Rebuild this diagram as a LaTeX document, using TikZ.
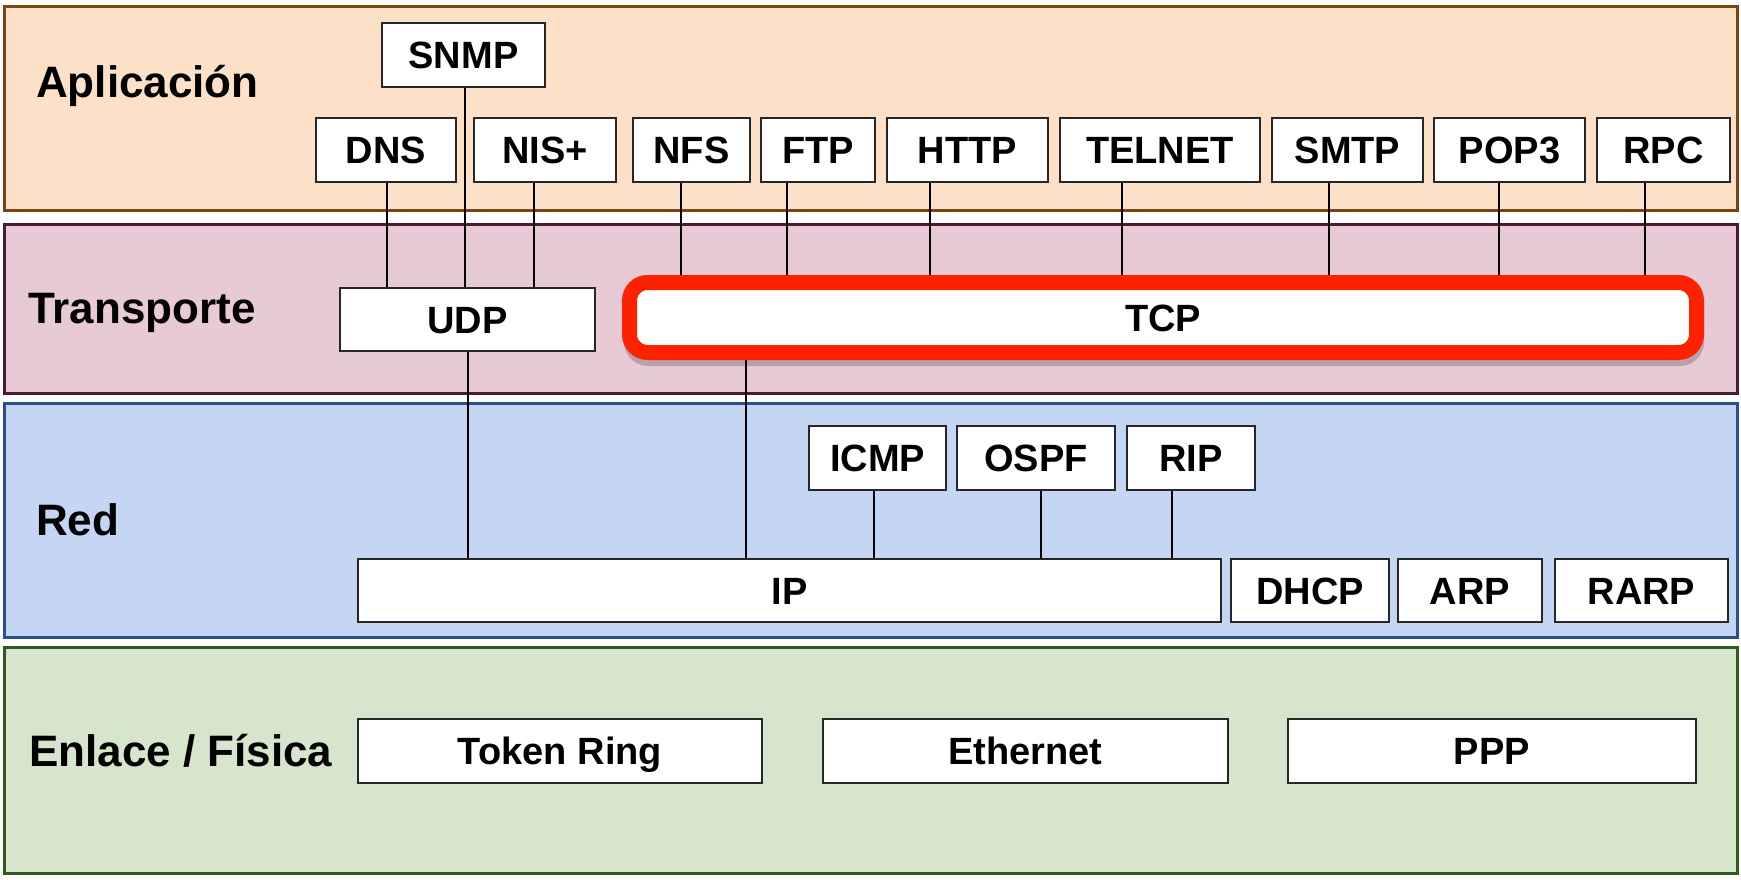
\documentclass[tikz,border=0pt]{standalone}
\usepackage{fontspec}
\setmainfont{Liberation Sans}
\definecolor{appfill}{HTML}{FCE1C8}
\definecolor{appline}{HTML}{7A4512}
\definecolor{trfill}{HTML}{E8CAD6}
\definecolor{trline}{HTML}{4C1A33}
\definecolor{netfill}{HTML}{C4D6F4}
\definecolor{netline}{HTML}{2A4F8F}
\definecolor{lnkfill}{HTML}{D6E6CC}
\definecolor{lnkline}{HTML}{2F5A1C}
\definecolor{tcpred}{HTML}{FF2200}
\begin{document}
\begin{tikzpicture}[x=1pt,y=-1pt,
  band/.style={line width=3pt},
  proto/.style={draw=black!85, line width=2pt, fill=white, inner sep=0pt,
    text height=27.2pt, text depth=0pt, align=center,
    font=\fontsize{38}{40}\selectfont\bfseries},
  tcpbox/.style={draw=tcpred, line width=15pt, fill=white, rounded corners=18pt,
    inner sep=0pt, text height=27.2pt, text depth=0pt,
    font=\fontsize{38}{40}\selectfont\bfseries},
  layerlabel/.style={anchor=base west, inner sep=0pt,
    font=\fontsize{44}{46}\selectfont\bfseries},
  link/.style={line width=1.6pt, black}]
\useasboundingbox (0,0) rectangle (1741,879);
\fill[white] (0,0) rectangle (1741,879);

% layer bands
\draw[band, draw=appline, fill=appfill] (4,6) rectangle (1737,210);
\draw[band, draw=trline, fill=trfill] (4,224) rectangle (1737,393);
\draw[band, draw=netline, fill=netfill] (4,403) rectangle (1737,637);
\draw[band, draw=lnkline, fill=lnkfill] (4,647) rectangle (1737,873);

% layer labels
\node[layerlabel] (lapp) at (36,97) {Aplicación};
\node[layerlabel] (ltr) at (28,323) {Transporte};
\node[layerlabel] (lnet) at (36,535) {Red};
\node[layerlabel] (llnk) at (29,766) {Enlace / Física};

% application protocols
\node[proto, minimum width=163, minimum height=64] (snmp) at (463.5,55) {SNMP};
\node[proto, minimum width=140, minimum height=64] (dns) at (386,150) {DNS};
\node[proto, minimum width=142, minimum height=64] (nis) at (545,150) {NIS+};
\node[proto, minimum width=117, minimum height=64] (nfs) at (691.5,150) {NFS};
\node[proto, minimum width=114, minimum height=64] (ftp) at (818,150) {FTP};
\node[proto, minimum width=161, minimum height=64] (http) at (967.5,150) {HTTP};
\node[proto, minimum width=200, minimum height=64] (telnet) at (1160,150) {TELNET};
\node[proto, minimum width=151, minimum height=64] (smtp) at (1347.5,150) {SMTP};
\node[proto, minimum width=151, minimum height=64] (pop) at (1509.5,150) {POP3};
\node[proto, minimum width=133, minimum height=64] (rpc) at (1663.5,150) {RPC};

% transport
\node[proto, minimum width=255, minimum height=63] (udp) at (467.5,319.5) {UDP};
\fill[black, opacity=0.2, rounded corners=24pt] (624,281) rectangle (1704,366);
\node[tcpbox, minimum width=1067, minimum height=70] (tcp) at (1163,317.5) {TCP};

% network
\node[proto, minimum width=137, minimum height=64] (icmp) at (877.5,458) {ICMP};
\node[proto, minimum width=158, minimum height=64] (ospf) at (1036,458) {OSPF};
\node[proto, minimum width=128, minimum height=64] (rip) at (1191,458) {RIP};
\node[proto, minimum width=863, minimum height=63] (ip) at (789.5,590.5) {IP};
\node[proto, minimum width=158, minimum height=63] (dhcp) at (1310,590.5) {DHCP};
\node[proto, minimum width=144, minimum height=63] (arp) at (1470,590.5) {ARP};
\node[proto, minimum width=173, minimum height=63] (rarp) at (1641.5,590.5) {RARP};

% link / physical
\node[proto, minimum width=404, minimum height=64] (token) at (560,751) {Token Ring};
\node[proto, minimum width=405, minimum height=64] (eth) at (1025.5,751) {Ethernet};
\node[proto, minimum width=408, minimum height=64] (ppp) at (1492,751) {PPP};

% x positions of the vertical connectors
\coordinate (xdns) at (387,0);
\coordinate (xsnmp) at (465,0);
\coordinate (xnis) at (534,0);
\coordinate (xnfs) at (681,0);
\coordinate (xftp) at (787,0);
\coordinate (xhttp) at (930,0);
\coordinate (xtelnet) at (1122,0);
\coordinate (xsmtp) at (1329,0);
\coordinate (xpop) at (1499,0);
\coordinate (xrpc) at (1645,0);
\coordinate (xudp) at (468,0);
\coordinate (xtcp) at (746,0);
\coordinate (xicmp) at (874,0);
\coordinate (xospf) at (1041,0);
\coordinate (xrip) at (1172,0);

% connectors
\draw[link] (dns.south -| xdns) -- (udp.north -| xdns);
\draw[link] (snmp.south -| xsnmp) -- (udp.north -| xsnmp);
\draw[link] (nis.south -| xnis) -- (udp.north -| xnis);
\draw[link] (nfs.south -| xnfs) -- (tcp.north -| xnfs);
\draw[link] (ftp.south -| xftp) -- (tcp.north -| xftp);
\draw[link] (http.south -| xhttp) -- (tcp.north -| xhttp);
\draw[link] (telnet.south -| xtelnet) -- (tcp.north -| xtelnet);
\draw[link] (smtp.south -| xsmtp) -- (tcp.north -| xsmtp);
\draw[link] (pop.south -| xpop) -- (tcp.north -| xpop);
\draw[link] (rpc.south -| xrpc) -- (tcp.north -| xrpc);
\draw[link] (udp.south -| xudp) -- (ip.north -| xudp);
\draw[link] (tcp.south -| xtcp) -- (ip.north -| xtcp);
\draw[link] (icmp.south -| xicmp) -- (ip.north -| xicmp);
\draw[link] (ospf.south -| xospf) -- (ip.north -| xospf);
\draw[link] (rip.south -| xrip) -- (ip.north -| xrip);
\end{tikzpicture}
\end{document}
